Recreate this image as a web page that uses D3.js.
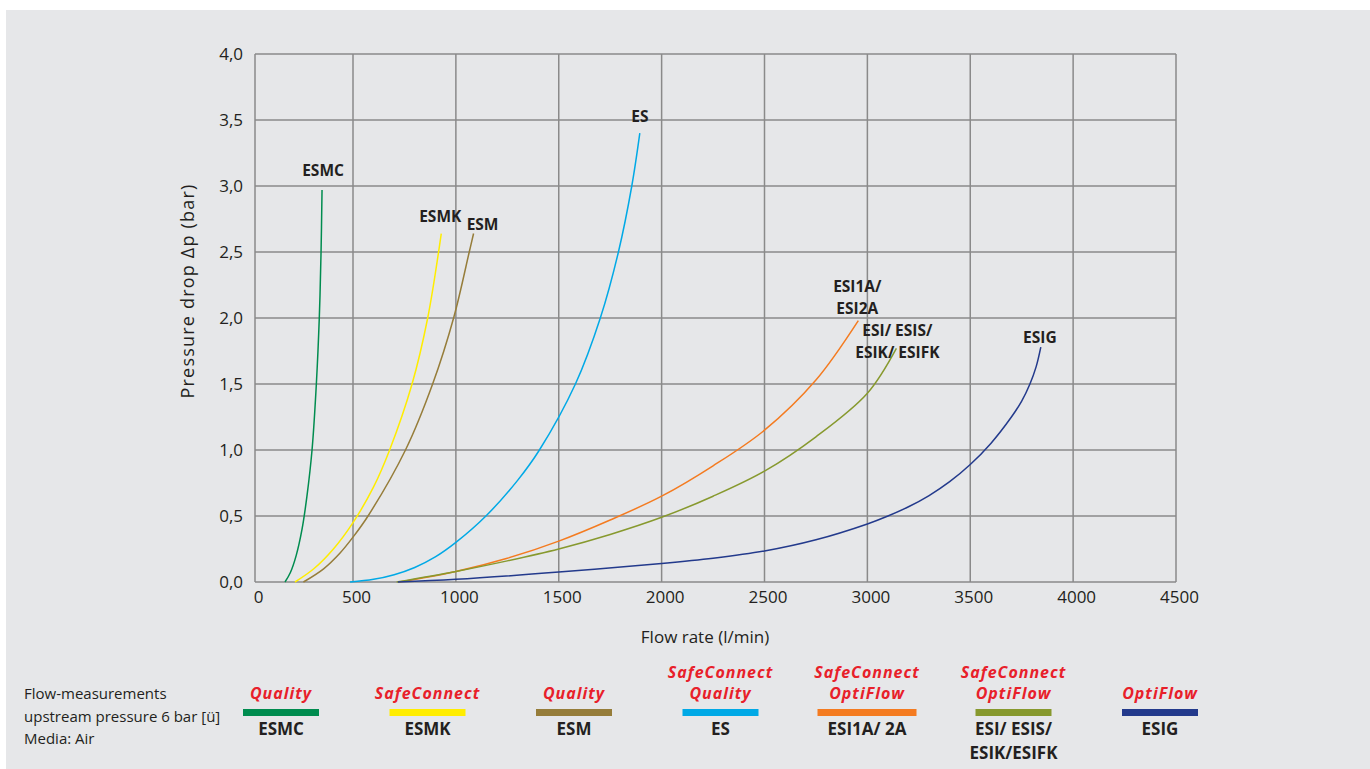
<!DOCTYPE html>
<html>
<head>
<meta charset="utf-8">
<script src="https://cdn.jsdelivr.net/npm/d3@7"></script>
<style>
  body { margin: 0; background: #fff; }
  svg { display: block; font-family: "Open Sans", "Noto Sans", sans-serif; }
</style>
</head>
<body>
<div id="chart"></div>
<script>
// tick values
const xTicks = [0, 500, 1000, 1500, 2000, 2500, 3000, 3500, 4000, 4500];
const yTicks = [0, 0.5, 1, 1.5, 2, 2.5, 3, 3.5, 4];

// series: [flow l/min, pressure drop bar]
const names = ["ESMC", "ESMK", "ESM", "ES", "ESI1A/ 2A", "ESI/ ESIS/ ESIK/ESIFK", "ESIG"];
const colors = ["#008c4f", "#ffed00", "#967d3a", "#00a9e6", "#f47b20", "#87992e", "#233a8c"];
const esmc = [[153, 0], [180, 0.07], [210, 0.2], [240, 0.4], [265, 0.65], [291, 1.0], [313, 1.5], [328, 2.0], [337, 2.5], [342, 2.97]];
const esmk = [[204, 0], [300, 0.1], [400, 0.25], [500, 0.45], [600, 0.72], [678, 1.0], [787, 1.5], [863, 2.0], [929, 2.64]];
const esm = [[247, 0], [350, 0.1], [434, 0.22], [500, 0.34], [573, 0.5], [755, 1.0], [887, 1.5], [989, 2.0], [1065, 2.5], [1086, 2.64]];
const es = [[485, 0], [600, 0.02], [700, 0.055], [800, 0.11], [900, 0.19], [1000, 0.3], [1146, 0.5], [1300, 0.77], [1406, 1.0], [1581, 1.5], [1702, 2.0], [1790, 2.5], [1855, 3.0], [1894, 3.4]];
const esi1a = [[725, 0], [1000, 0.08], [1250, 0.18], [1500, 0.31], [1750, 0.47], [2000, 0.65], [2250, 0.88], [2500, 1.15], [2750, 1.53], [2956, 1.98]];
const esi = [[712, 0], [1000, 0.08], [1250, 0.16], [1500, 0.25], [1750, 0.36], [2000, 0.49], [2250, 0.65], [2500, 0.84], [2750, 1.1], [3000, 1.43], [3141, 1.77]];
const esig = [[718, 0], [1000, 0.02], [1500, 0.075], [2000, 0.14], [2250, 0.18], [2500, 0.235], [2750, 0.32], [3000, 0.44], [3100, 0.5], [3200, 0.57], [3300, 0.655], [3400, 0.76], [3500, 0.89], [3600, 1.05], [3700, 1.25], [3750, 1.37], [3790, 1.5], [3820, 1.63], [3843, 1.78]];
const series = [esmc, esmk, esm, es, esi1a, esi, esig];

// curve labels (lines of text, anchored at end point)
const curveLabels = [["ESMC"], ["ESMK"], ["ESM"], ["ES"], ["ESI1A/", "ESI2A"], ["ESI/ ESIS/", "ESIK/ ESIFK"], ["ESIG"]];

// legend
const brands = [["Quality"], ["SafeConnect"], ["Quality"], ["SafeConnect", "Quality"], ["SafeConnect", "OptiFlow"], ["SafeConnect", "OptiFlow"], ["OptiFlow"]];
const legendNames = [["ESMC"], ["ESMK"], ["ESM"], ["ES"], ["ESI1A/ 2A"], ["ESI/ ESIS/", "ESIK/ESIFK"], ["ESIG"]];
const noteLines = ["Flow-measurements", "upstream pressure 6 bar [ü]", "Media: Air"];

const w = 1370, h = 769;
const svg = d3.select('#chart').append('svg').attr('width', w).attr('height', h);

svg.append('rect').attr('x', 6).attr('y', 10).attr('width', w - 6).attr('height', h - 10).attr('fill', '#e6e7e9');

const x = d3.scaleLinear().domain([0, 500, 4500]).range([255, 353, 1176]);
const y = d3.scaleLinear().domain([0, 4]).range([582, 54]);

const loc = d3.formatLocale({decimal: ",", thousands: "", grouping: [3], currency: ["", ""]});
const fmtY = loc.format(".1f");

// grid
const grid = svg.append('g').attr('stroke', '#8a8a8a').attr('stroke-width', 1.5);
grid.selectAll('line.v').data(xTicks).enter().append('line')
  .attr('x1', d => x(d)).attr('x2', d => x(d)).attr('y1', y(0)).attr('y2', y(4));
grid.selectAll('line.h').data(yTicks).enter().append('line')
  .attr('x1', x(0)).attr('x2', x(4500)).attr('y1', d => y(d)).attr('y2', d => y(d));

// axes (labels only)
const xAxis = svg.append('g').attr('transform', `translate(0,${y(0)})`)
  .call(d3.axisBottom(x).tickValues(xTicks).tickSize(0).tickPadding(9).tickFormat(d3.format('d')));
const yAxis = svg.append('g').attr('transform', `translate(${x(0)},0)`)
  .call(d3.axisLeft(y).tickValues(yTicks).tickSize(0).tickPadding(12).tickFormat(fmtY));
[xAxis, yAxis].forEach(a => {
  a.select('.domain').remove();
  a.selectAll('text').attr('font-size', 17).attr('fill', '#231f20').attr('font-family', '"Open Sans", sans-serif');
});
xAxis.selectAll('text').attr('dx', 3);

svg.append('text').attr('x', 705).attr('y', 643).attr('text-anchor', 'middle')
  .attr('font-size', 17).attr('fill', '#231f20').text('Flow rate (l/min)');
svg.append('text').attr('transform', 'translate(194,291) rotate(-90)').attr('text-anchor', 'middle')
  .attr('font-size', 18).attr('letter-spacing', 1.2).attr('fill', '#231f20').text('Pressure drop Δp (bar)');

// curves
const line = d3.line().x(d => x(d[0])).y(d => y(d[1])).curve(d3.curveCatmullRom.alpha(0.5));
svg.append('g').selectAll('path').data(series).enter().append('path')
  .attr('d', line).attr('fill', 'none')
  .attr('stroke', (d, i) => colors[i]).attr('stroke-width', 1.5);

// curve labels
const labelOffsets = [[1, -13.5], [-1, -12], [9, -4], [0, -11.7], [-1, -29], [1, -12], [-1, -4.5]];
series.forEach((s, i) => {
  const end = s[s.length - 1];
  const lines = curveLabels[i];
  const t = svg.append('text').attr('text-anchor', 'middle').attr('font-size', 15.5)
    .attr('font-weight', 'bold').attr('fill', '#231f20');
  lines.forEach((l, j) => {
    t.append('tspan').attr('x', x(end[0]) + labelOffsets[i][0])
      .attr('y', y(end[1]) + labelOffsets[i][1] + j * 22).text(l);
  });
});

// legend
const note = svg.append('text').attr('font-size', 15).attr('fill', '#231f20');
noteLines.forEach((l, j) => note.append('tspan').attr('x', 24).attr('y', 699 + j * 22.5).text(l));

const legendX = d3.scalePoint().domain(names).range([281, 1160]);
const barW = [76, 76, 76, 76, 99, 76, 76];
names.forEach((n, i) => {
  const cx = legendX(n);
  const b = brands[i];
  b.forEach((t, j) => {
    svg.append('text').attr('x', cx).attr('y', 699 - (b.length - 1 - j) * 21)
      .attr('text-anchor', 'middle').attr('font-size', 16).attr('letter-spacing', 1)
      .attr('font-weight', 'bold').attr('font-style', 'italic').attr('fill', '#e8202a').text(t);
  });
  svg.append('rect').attr('x', cx - barW[i] / 2).attr('y', 709).attr('width', barW[i]).attr('height', 7)
    .attr('fill', colors[i]);
  legendNames[i].forEach((t, j) => {
    svg.append('text').attr('x', cx).attr('y', 735 + j * 24)
      .attr('text-anchor', 'middle').attr('font-size', 17).attr('font-weight', 'bold')
      .attr('fill', '#231f20').text(t);
  });
});
</script>
</body>
</html>
